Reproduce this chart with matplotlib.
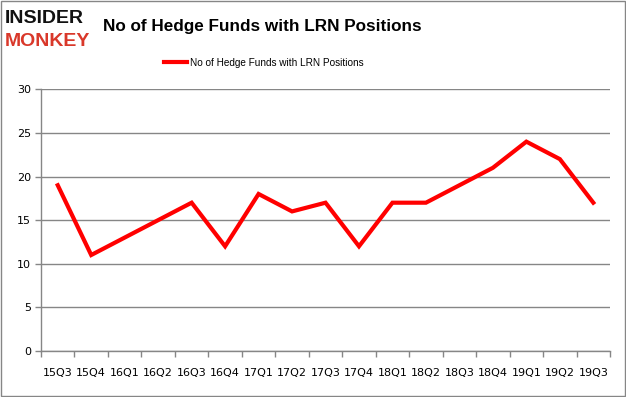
import matplotlib
matplotlib.use('Agg')
import matplotlib.pyplot as plt
from matplotlib.patches import Rectangle

quarters = ['15Q3', '15Q4', '16Q1', '16Q2', '16Q3', '16Q4', '17Q1', '17Q2', '17Q3',
            '17Q4', '18Q1', '18Q2', '18Q3', '18Q4', '19Q1', '19Q2', '19Q3']
funds = [19, 11, 13, 15, 17, 12, 18, 16, 17, 12, 17, 17, 19, 21, 24, 22, 17]
series_name = 'No of Hedge Funds with LRN Positions'
title = 'No of Hedge Funds with LRN Positions'

grey = '#868686'

fig = plt.figure(figsize=(6.26, 3.97), dpi=100)
ax = fig.add_axes([0.0655, 0.116, 0.909, 0.659])

x = range(len(quarters))
ax.plot(x, funds, color='#ff0000', lw=3.0, solid_joinstyle='miter', label=series_name)

ax.set_xlim(-0.5, len(quarters) - 0.5)
ax.set_ylim(0, 30)
ax.set_yticks(range(0, 31, 5))
ax.set_xticks(x)
ax.set_xticklabels(quarters)
ax.set_xticks([i - 0.5 for i in range(len(quarters) + 1)], minor=True)
ax.tick_params(axis='x', which='major', length=0, pad=12, labelsize=8)
ax.tick_params(axis='x', which='minor', length=4, color=grey, width=1)
ax.tick_params(axis='y', length=4, color=grey, width=1, labelsize=8, pad=3)
ax.grid(axis='y', color=grey, lw=1)
ax.set_axisbelow(True)
for side in ['top', 'right']:
    ax.spines[side].set_visible(False)
for side in ['left', 'bottom']:
    ax.spines[side].set_color(grey)
    ax.spines[side].set_linewidth(1)

leg = fig.legend(loc='center left', bbox_to_anchor=(0.262, 0.842), frameon=False,
                 prop={'family': 'Liberation Sans', 'size': 7.2},
                 handlelength=2.3, handletextpad=0.3, borderaxespad=0, borderpad=0)

fig.text(0.165, 0.933, title, fontsize=12.3, fontweight='bold',
         family=['Liberation Sans', 'DejaVu Sans'], va='center', ha='left')

# logo
fig.text(0.007, 0.953, 'INSIDER', fontsize=14, fontweight='bold', color='#111111',
         family='Liberation Sans', va='center', ha='left')
fig.text(0.007, 0.895, 'MONKEY', fontsize=14, fontweight='bold', color='#d9382a',
         family='Liberation Sans', va='center', ha='left')

fig.patches.append(Rectangle((0.001, 0.002), 0.997, 0.995, transform=fig.transFigure,
                             fill=False, edgecolor=grey, lw=1))

fig.savefig('out.png', dpi=100)
